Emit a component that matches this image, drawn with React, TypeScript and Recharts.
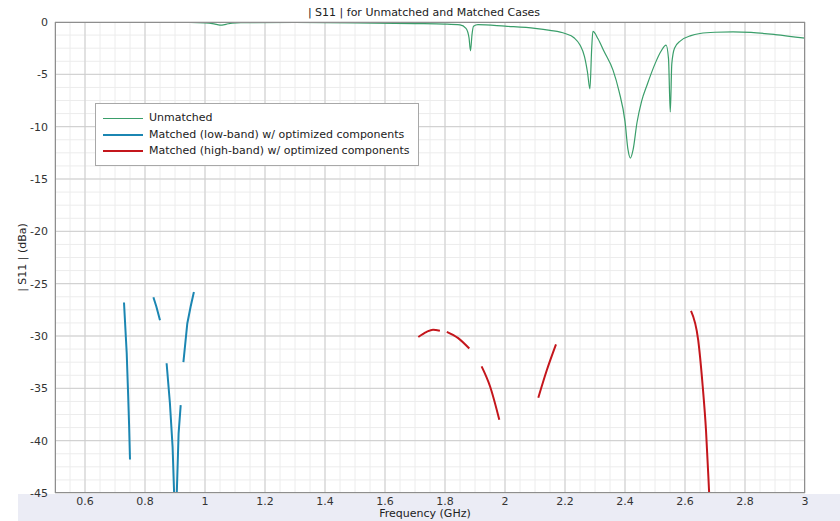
import React from 'react';
import {
  LineChart,
  Line,
  XAxis,
  YAxis,
  CartesianGrid,
  Legend,
} from 'recharts';

// Frequency (GHz) / |S11| (dBa)
const unmatchedFreq = [
  0.5, 0.6, 0.8, 0.95, 1.0, 1.03, 1.05, 1.07, 1.09, 1.12, 1.3, 1.5, 1.7, 1.8, 1.85,
  1.87, 1.88, 1.885, 1.89, 1.895, 1.91, 2.0, 2.1, 2.15, 2.2, 2.23, 2.25, 2.265,
  2.275, 2.283, 2.289, 2.293, 2.31, 2.33, 2.36, 2.38, 2.4, 2.41, 2.418, 2.427,
  2.44, 2.455, 2.475, 2.5, 2.52, 2.537, 2.545, 2.551, 2.556, 2.565, 2.585, 2.62,
  2.65, 2.7, 2.76, 2.82, 2.9, 3.0,
];
const unmatchedS11 = [
  -0.05, -0.05, -0.05, -0.05, -0.08, -0.18, -0.3, -0.22, -0.1, -0.06, -0.05, -0.08,
  -0.15, -0.2, -0.28, -0.6, -1.5, -2.75, -1.2, -0.4, -0.25, -0.4, -0.6, -0.8, -1.1,
  -1.5, -2.2, -3.3, -4.8, -6.4, -2.5, -0.9, -1.6, -2.8, -4.6, -6.6, -9.5, -12.2,
  -13.0, -12.2, -9.6, -7.6, -5.9, -4.0, -2.8, -2.2, -3.5, -8.6, -4.0, -2.5, -1.8,
  -1.3, -1.1, -0.98, -0.95, -1.0, -1.2, -1.55,
];

const lowBandFreq = [
  0.73, 0.735, 0.739, 0.744, 0.747, 0.75, 0.78, 0.828, 0.838, 0.85, 0.86, 0.872,
  0.883, 0.892, 0.897, 0.899, 0.902, 0.904, 0.906, 0.912, 0.919, 0.924, 0.928,
  0.941, 0.952, 0.963,
];
const lowBandS11 = [
  -26.8, -29.5, -31.6, -35.8, -38.5, -41.8, null, -26.3, -27.2, -28.5, null, -32.6,
  -36.4, -40.6, -45, -48, null, -48, -45, -39.3, -36.6, null, -32.5, -28.8, -27.2,
  -25.8,
];

const highBandFreq = [
  1.711, 1.739, 1.76, 1.783, 1.795, 1.806, 1.844, 1.881, 1.9, 1.922, 1.95, 1.981,
  2.05, 2.111, 2.139, 2.17, 2.4, 2.62, 2.644, 2.659, 2.67, 2.68, 2.683,
];
const highBandS11 = [
  -30.1, -29.6, -29.4, -29.5, null, -29.6, -30.2, -31.2, null, -32.9, -34.8, -38.0,
  null, -35.9, -33.3, -30.8, null, -27.6, -30.4, -34.8, -39.0, -44.7, -46.5,
];

const xDomain = [0.5, 3];
const yDomain = [-45, 0];
const xTicks = [0.6, 0.8, 1, 1.2, 1.4, 1.6, 1.8, 2, 2.2, 2.4, 2.6, 2.8, 3];
const yTicks = [0, -5, -10, -15, -20, -25, -30, -35, -40, -45];

// minor grid: 0.05 GHz and 1.25 dB steps
const minorX = Array.from({ length: 51 }, (_, i) => 0.5 + i * 0.05);
const minorY = Array.from({ length: 37 }, (_, i) => -i * 1.25);

const seriesInfo = [
  { name: 'Unmatched', color: '#3a9e6a', width: 1.2 },
  { name: 'Matched (low-band) w/ optimized components', color: '#1b86b2', width: 2 },
  { name: 'Matched (high-band) w/ optimized components', color: '#c4161c', width: 2 },
];

const toPoints = (xs: number[], ys: (number | null)[]) =>
  xs.map((f, i) => ({ f, v: ys[i] }));

const font = '"DejaVu Sans", sans-serif';

const minorXCoords = ({ offset }: any) =>
  minorX.map((v) => offset.left + ((v - xDomain[0]) / (xDomain[1] - xDomain[0])) * offset.width);
const minorYCoords = ({ offset }: any) =>
  minorY.map((v) => offset.top + ((yDomain[1] - v) / (yDomain[1] - yDomain[0])) * offset.height);

const LegendBox = () => (
  <div
    style={{
      background: '#fff',
      border: '1px solid #a8a8a8',
      padding: '6px 8px 5px 7px',
      fontFamily: font,
      fontSize: 11,
      color: '#222',
      lineHeight: '16.5px',
    }}
  >
    {seriesInfo.map((s) => (
      <div key={s.name} style={{ display: 'flex', alignItems: 'center' }}>
        <span
          style={{
            display: 'inline-block',
            width: 40,
            height: 0,
            borderTop: `${s.width === 2 ? 2 : 1}px solid ${s.color}`,
            marginRight: 6,
          }}
        />
        <span>{s.name}</span>
      </div>
    ))}
  </div>
);

export default function App() {
  return (
    <div style={{ position: 'absolute', left: 0, top: 0, width: 840, height: 521, background: '#fff' }}>
      <div style={{ position: 'absolute', left: 18, top: 494, width: 822, height: 27, background: '#ebecf5' }} />
      <div
        style={{
          position: 'absolute',
          left: 424,
          top: 6,
          transform: 'translateX(-50%)',
          whiteSpace: 'nowrap',
          fontFamily: font,
          fontSize: 11,
          lineHeight: '14px',
          color: '#222',
        }}
      >
        | S11 | for Unmatched and Matched Cases
      </div>
      <LineChart
        width={840}
        height={521}
        margin={{ top: 22, right: 35, bottom: 0, left: 0 }}
        style={{ position: 'absolute', left: 0, top: 0 }}
      >
        <CartesianGrid
          stroke="#ececec"
          verticalCoordinatesGenerator={minorXCoords}
          horizontalCoordinatesGenerator={minorYCoords}
        />
        <CartesianGrid stroke="#cdcdcd" />
        <XAxis
          type="number"
          dataKey="f"
          domain={xDomain}
          ticks={xTicks}
          allowDataOverflow
          height={28}
          tickSize={0}
          tickMargin={4}
          tickLine={false}
          axisLine={false}
          tickFormatter={(v: number) => String(v)}
          tick={{ fill: '#333', fontSize: 11, fontFamily: font }}
          label={{
            value: 'Frequency (GHz)',
            position: 'insideBottom',
            offset: 4,
            dx: -5,
            style: { fill: '#222', fontSize: 11, fontFamily: font },
          }}
        />
        <YAxis
          type="number"
          domain={yDomain}
          ticks={yTicks}
          allowDataOverflow
          width={55}
          tickSize={0}
          tickMargin={7}
          tickLine={false}
          axisLine={false}
          tick={{ fill: '#333', fontSize: 11, fontFamily: font }}
          label={{
            value: '| S11 | (dBa)',
            angle: -90,
            position: 'insideLeft',
            offset: 22,
            style: { textAnchor: 'middle', fill: '#222', fontSize: 11, fontFamily: font },
          }}
        />
        <Legend
          layout="horizontal"
          verticalAlign="middle"
          align="center"
          wrapperStyle={{ position: 'absolute', left: 95, top: 103, width: 'auto', height: 'auto' }}
          content={() => <LegendBox />}
        />
        <Line
          data={toPoints(unmatchedFreq, unmatchedS11)}
          dataKey="v"
          name={seriesInfo[0].name}
          type="monotone"
          stroke={seriesInfo[0].color}
          strokeWidth={seriesInfo[0].width}
          dot={false}
          isAnimationActive={false}
        />
        <Line
          data={toPoints(lowBandFreq, lowBandS11)}
          dataKey="v"
          name={seriesInfo[1].name}
          type="linear"
          stroke={seriesInfo[1].color}
          strokeWidth={seriesInfo[1].width}
          dot={false}
          connectNulls={false}
          isAnimationActive={false}
        />
        <Line
          data={toPoints(highBandFreq, highBandS11)}
          dataKey="v"
          name={seriesInfo[2].name}
          type="monotone"
          stroke={seriesInfo[2].color}
          strokeWidth={seriesInfo[2].width}
          dot={false}
          connectNulls={false}
          isAnimationActive={false}
        />
      </LineChart>
      <div
        style={{
          position: 'absolute',
          left: 55,
          top: 22,
          width: 750,
          height: 471,
          boxSizing: 'border-box',
          border: '1px solid #8e8e8e',
          pointerEvents: 'none',
        }}
      />
    </div>
  );
}
